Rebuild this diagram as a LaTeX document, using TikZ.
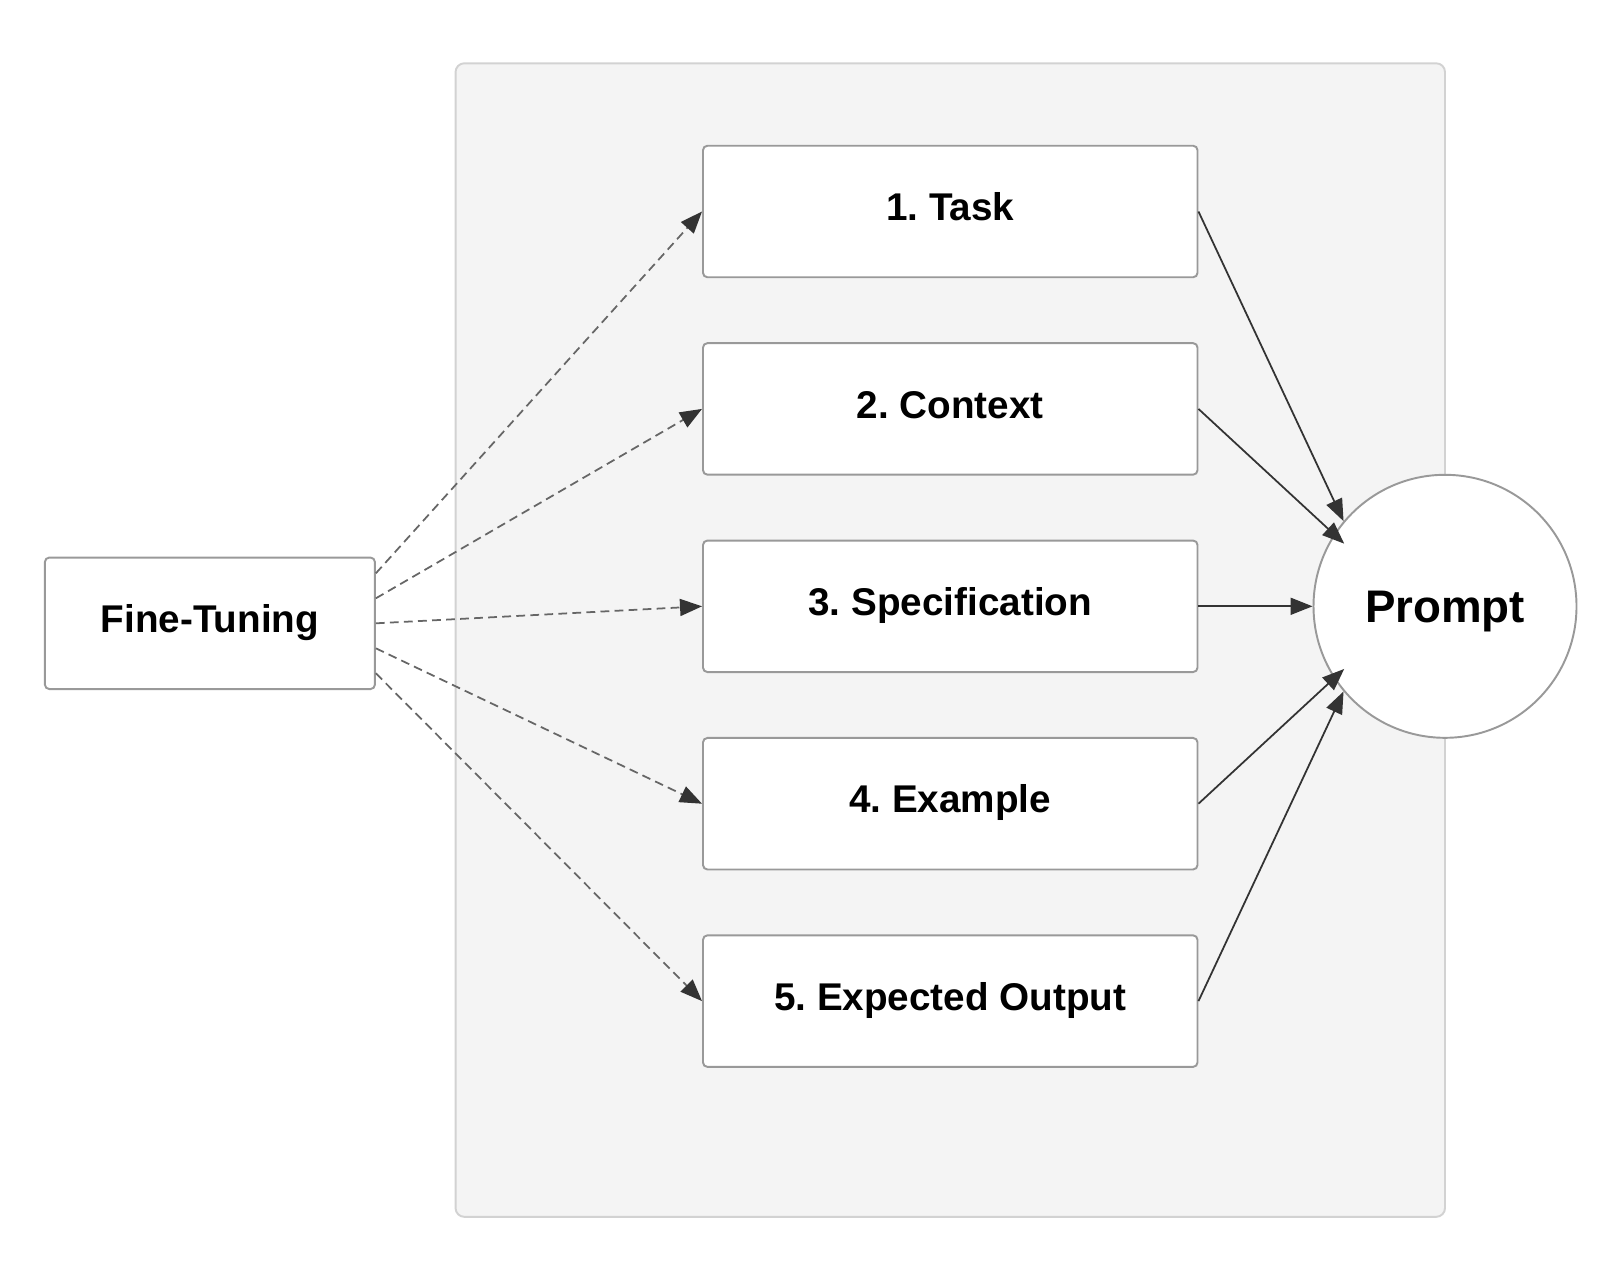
\documentclass[tikz,border=0pt]{standalone}
\usepackage{fontspec}
\setmainfont{Liberation Sans}
\usetikzlibrary{arrows.meta,positioning,chains,backgrounds,calc}
\definecolor{groupfill}{RGB}{244,244,244}
\definecolor{groupline}{RGB}{210,210,210}
\definecolor{boxline}{RGB}{153,153,153}
\definecolor{dashline}{RGB}{102,102,102}
\definecolor{arrowdark}{RGB}{51,51,51}

\begin{document}
\frenchspacing
\begin{tikzpicture}[%
    >={Triangle[length=4.4mm, width=3.4mm, color=arrowdark]}, % filled heads
    start chain=going below,    % the five parts, top to bottom
    node distance=3.948cm,
    ]

\tikzset{
  base/.style={draw=boxline, line width=1.1pt, fill=white, align=center, font=\bfseries\fontsize{22}{26}\selectfont},
  proc/.style={base, on grid, on chain, rectangle, rounded corners=2.5pt, minimum width=9.89cm, minimum height=2.63cm, text height=16pt, text depth=5.5pt},
  tune/.style={base, rectangle, rounded corners=2.5pt, minimum width=6.6cm, minimum height=2.63cm, text height=16pt, text depth=5.5pt},
  term/.style={base, circle, minimum size=5.26cm, text height=18.6pt, text depth=0pt, font=\bfseries\fontsize{26}{30}\selectfont},
  % -------------------------------------------------
  % Connector line styles
  norm/.style={->, draw=arrowdark, line width=1pt},
  hint/.style={->, draw=dashline, line width=1pt, dash pattern=on 5pt off 3pt},
}

  \useasboundingbox (0,0) rectangle (31.96,-25.28);

  \begin{scope}
    \node[proc] (task) at (19.005,-4.23) {1. Task};
    \node[proc] (context) {2. Context};
    \node[proc] (spec) {3. Specification};
    \node[proc] (example) {4. Example};
    \node[proc] (output) {5. Expected Output};

    \node[tune, on grid, left=14.807cm of spec, yshift=-0.34cm] (finetune) {Fine-Tuning};
    \node[term, on grid, right=9.895cm of spec] (prompt) {Prompt};

    % fine-tuning feeds every part
    \draw[hint] ([yshift=1cm]finetune.east) -- (task.west);
    \draw[hint] ([yshift=0.5cm]finetune.east) -- (context.west);
    \draw[hint] (finetune.east) -- (spec.west);
    \draw[hint] ([yshift=-0.5cm]finetune.east) -- (example.west);
    \draw[hint] ([yshift=-1cm]finetune.east) -- (output.west);

    % every part goes into the prompt
    \draw[norm] (task.east) -- (prompt.140);
    \draw[norm, shorten >=-0.28cm] (context.east) -- (prompt.147);
    \draw[norm] (spec.east) -- (prompt.west);
    \draw[norm, shorten >=-0.28cm] (example.east) -- (prompt.213);
    \draw[norm] (output.east) -- (prompt.220);
  \end{scope}

  \begin{pgfonlayer}{background}
    % Left-top corner of the group
    \path (task.west |- task.north)+(-4.93cm,1.63cm) coordinate (a11);
    % Right-bottom corner of the group
    \path (prompt.center |- output.south)+(0,-2.98cm) coordinate (a21);
    \path[fill=groupfill, draw=groupline, line width=1.1pt, rounded corners=5pt]
      (a11) rectangle (a21);
  \end{pgfonlayer}
\end{tikzpicture}
\end{document}
